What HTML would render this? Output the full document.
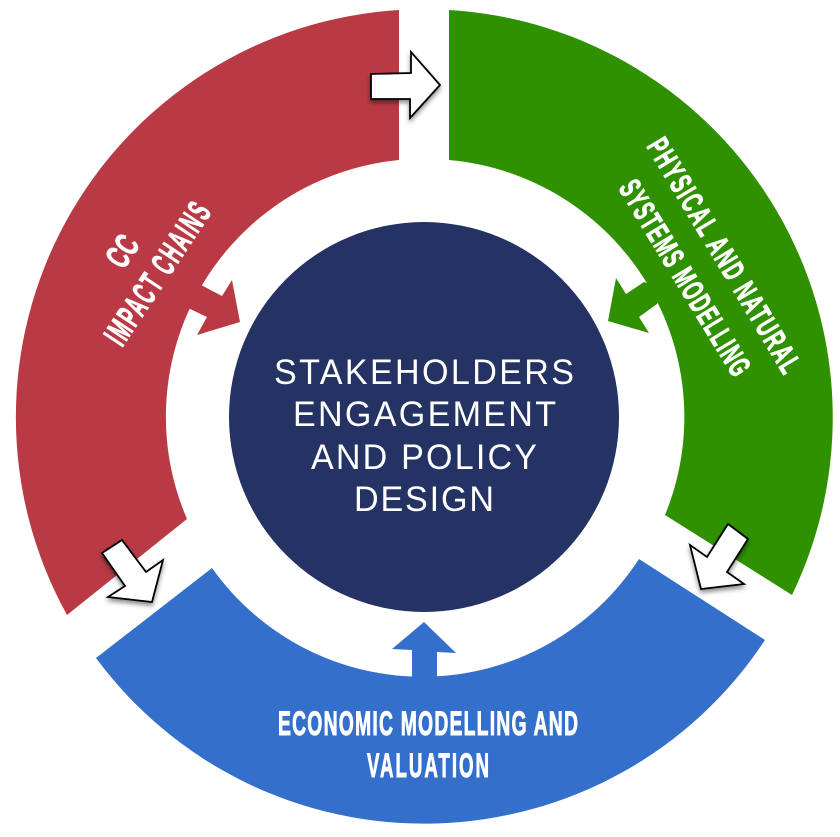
<!DOCTYPE html>
<html>
<head>
<meta charset="utf-8">
<style>
html,body{margin:0;padding:0;background:#fff;width:840px;height:837px;overflow:hidden}
svg{display:block}
.c{font-family:"Liberation Sans",sans-serif;font-size:35.5px;fill:#fff}
.l{font-family:"Liberation Sans",sans-serif;font-weight:bold;fill:#fff;stroke:#fff;stroke-width:1px;font-size:34px}
</style>
</head>
<body>
<svg width="840" height="837" viewBox="0 0 840 837" xmlns="http://www.w3.org/2000/svg">
<defs>
<filter id="s" x="-30%" y="-30%" width="160%" height="160%">
<feDropShadow dx="0" dy="3" stdDeviation="2.5" flood-color="#000" flood-opacity="0.45"/>
</filter>
</defs>
<rect width="840" height="837" fill="#fff"/>

<path d="M399,10 A408,408 0 0 0 67,615 L187,519 A258,258 0 0 1 399,160 Z" fill="#b93a45"/>
<path d="M449,10 A408,408 0 0 1 792,595 L665,515 A258,258 0 0 0 449,160 Z" fill="#2f9100"/>
<path d="M96,658 A408,408 0 0 0 765,640 L639,559 A258,258 0 0 1 212,568 Z" fill="#3470cb"/>

<polygon points="201,285 222,296 232,280 240,322 197,335 207,317 188,308 180,290" fill="#b93a45"/>
<polygon points="644,282 626,294 616,278 608,321 649,333 639,317 657,304 665,290" fill="#2f9100"/>
<polygon points="412,680 412,650 392,649 424,622 456,653 437,652 437,680" fill="#3470cb"/>

<circle cx="424" cy="417" r="195" fill="#253264"/>

<text class="c" transform="translate(274,384) scale(.96,1)" textLength="312.5" lengthAdjust="spacing">STAKEHOLDERS</text>
<text class="c" transform="translate(293,426) scale(.96,1)" textLength="274" lengthAdjust="spacing">ENGAGEMENT</text>
<text class="c" transform="translate(311,469) scale(.96,1)" textLength="235.4" lengthAdjust="spacing">AND POLICY</text>
<text class="c" transform="translate(354,511) scale(.96,1)" textLength="145.8" lengthAdjust="spacing">DESIGN</text>

<text class="l" transform="translate(122,348) rotate(-56.5) scale(.52,1)" textLength="313.5" lengthAdjust="spacing">IMPACT CHAINS</text>
<text class="l" transform="translate(123.4,270.5) rotate(-56.5) scale(.62,1)" textLength="50" lengthAdjust="spacing">CC</text>

<text class="l" transform="translate(646,146) rotate(59) scale(.6,1)" textLength="446.7" lengthAdjust="spacing" style="font-size:31px">PHYSICAL AND NATURAL</text>
<text class="l" transform="translate(618,188) rotate(58.7) scale(.58,1)" textLength="384.5" lengthAdjust="spacing" style="font-size:31px">SYSTEMS MODELLING</text>

<text class="l" transform="translate(278,735) scale(.57,1)" textLength="526.3" lengthAdjust="spacing">ECONOMIC MODELLING AND</text>
<text class="l" transform="translate(367,777) scale(.55,1)" textLength="221.8" lengthAdjust="spacing">VALUATION</text>

<g fill="#fff" stroke="#000" stroke-width="1.8" stroke-linejoin="miter" filter="url(#s)">
<polygon points="371,74 411,73 411,52 440,85 410,118 410,99 371,99"/>
<polygon points="102,553 122,540 146,572 163,560 152,602 108,597 125,586"/>
<polygon points="728,524 748,539 727,572 744,584 701,589 690,545 707,557"/>
</g>
</svg>
</body>
</html>
